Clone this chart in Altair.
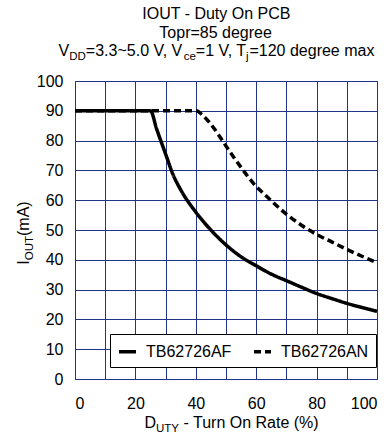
import altair as alt
import pandas as pd

# ---- data ----
af_duty = [0, 25, 27, 30, 32.5, 35, 40, 45, 50, 55, 60, 65, 70, 75, 80, 85, 90, 95, 100]
af_iout = [90, 90, 84, 75.5, 68.5, 63.5, 56, 50, 45, 41, 38, 35.2, 33, 30.8, 28.7, 27, 25.4, 24, 22.7]
an_duty = [0, 40, 42.5, 45, 47.5, 50, 52.5, 55, 57.5, 60, 62.5, 65, 70, 75, 80, 85, 90, 95, 100]
an_iout = [90, 90, 88.3, 85.5, 82, 78.2, 74.5, 71, 67.6, 64.6, 62.2, 59.8, 55.3, 51.6, 48.5, 46, 43.5, 41.2, 39]
series_names = ["TB62726AF", "TB62726AN"]
axis_ticks = list(range(0, 101, 10))

FONT = "Liberation Sans"
GRID = "#22338a"

df = pd.concat([
    pd.DataFrame({"duty": af_duty, "iout": af_iout, "device": series_names[0]}),
    pd.DataFrame({"duty": an_duty, "iout": an_iout, "device": series_names[1]}),
])

# Arial / Liberation Sans advance widths (per 1000 em)
W = {' ': 278, '(': 333, ')': 333, ',': 278, '-': 333, '.': 278, '=': 584, '~': 584, '%': 889,
     'A': 667, 'B': 667, 'C': 722, 'D': 722, 'I': 278, 'N': 722, 'O': 778, 'P': 667, 'R': 722,
     'T': 611, 'U': 722, 'V': 667, 'Y': 667,
     'a': 556, 'c': 500, 'd': 556, 'e': 556, 'g': 556, 'j': 222, 'm': 833, 'n': 556, 'o': 556,
     'p': 556, 'r': 333, 't': 278, 'u': 556, 'x': 500, 'y': 500}


def tw(s, size):
    return sum(W.get(ch, 556) for ch in s) * size / 1000.0


one = pd.DataFrame({"a": [0]})


def rich_text(pieces, x, y, size, sub_size, sub_dy, angle=0):
    """pieces: list of (text, is_sub, gap_before); centred at (x, y) on the baseline."""
    total = sum(tw(t, sub_size if s else size) + g for t, s, g in pieces)
    off = -total / 2.0
    layers = []
    for t, s, g in pieces:
        off += g
        fs = sub_size if s else size
        kw = dict(text=t, font=FONT, fontSize=fs, align="left", baseline="alphabetic",
                  color="black", dx=off, dy=(sub_dy if s else 0))
        if angle:
            kw["angle"] = angle
        layers.append(alt.Chart(one).mark_text(**kw).encode(x=alt.value(x), y=alt.value(y)))
        off += tw(t, fs)
    return layers


xscale = alt.Scale(domain=[0, 100], nice=False)
yscale = alt.Scale(domain=[0, 100], nice=False)

xaxis = alt.Axis(values=axis_ticks, title=None, grid=True, gridColor=GRID, gridWidth=1,
                 domain=False, ticks=False,
                 labelExpr="datum.value % 20 == 0 ? datum.label : ''",
                 labelPadding=16, labelFontSize=16, labelFont=FONT, labelColor="black")
yaxis = alt.Axis(values=axis_ticks, title=None, grid=True, gridColor=GRID, gridWidth=1,
                 domain=False, ticks=False,
                 labelPadding=12, labelFontSize=16, labelFont=FONT, labelColor="black")

lines = alt.Chart(df).mark_line(strokeWidth=3.5, color="black", interpolate="monotone",
                                strokeCap="butt").encode(
    x=alt.X("duty:Q", scale=xscale, axis=xaxis),
    y=alt.Y("iout:Q", scale=yscale, axis=yaxis),
    strokeDash=alt.StrokeDash("device:N",
                              scale=alt.Scale(domain=series_names, range=[[1, 0], [7, 4]]),
                              legend=alt.Legend(orient="none", legendX=35, legendY=253,
                                                direction="horizontal", title=None,
                                                symbolType="stroke", symbolSize=289,
                                                symbolStrokeWidth=3.5, symbolStrokeColor="black",
                                                labelFont=FONT, labelFontSize=16, labelColor="black",
                                                labelOffset=8, columnPadding=15, padding=7,
                                                strokeColor="black", fillColor="white")),
    order=alt.Order("duty:Q"),
)

CX = 141.5  # title centre relative to plot left (absolute ~216.5)
title_layers = []
title_layers += rich_text([("IOUT - Duty On PCB", False, 0)], CX, -62, 16, 11, 4)
title_layers += rich_text([("Topr=85 degree", False, 0)], CX, -43, 16, 11, 4)
title_layers += rich_text([("V", False, 0), ("DD", True, 0), ("=3.3~5.0 V, V", False, 0),
                           ("ce", True, 0), ("=1 V, T", False, 0), ("j", True, -2),
                           ("=120 degree max", False, 1)],
                          CX, -25.5, 16, 11.5, 4)
title_layers += rich_text([("D", False, 0), ("UTY", True, 0), ("- Turn On Rate (%)", False, 4.5)],
                          157, 346.5, 16, 11.5, 4)
title_layers += rich_text([("I", False, 0), ("OUT", True, 0), ("(mA)", False, 0)],
                          -46, 152, 16, 11.5, 4, angle=270)

chart = alt.layer(lines, *title_layers).properties(
    width=302, height=298,
    padding={"left": 75, "top": 81, "right": 12, "bottom": 59},
    autosize=alt.AutoSizeParams(type="none"),
    background="white",
).configure_view(stroke=GRID, strokeWidth=1)

chart.save("out.html", embed_options={"renderer": "svg", "actions": False})
